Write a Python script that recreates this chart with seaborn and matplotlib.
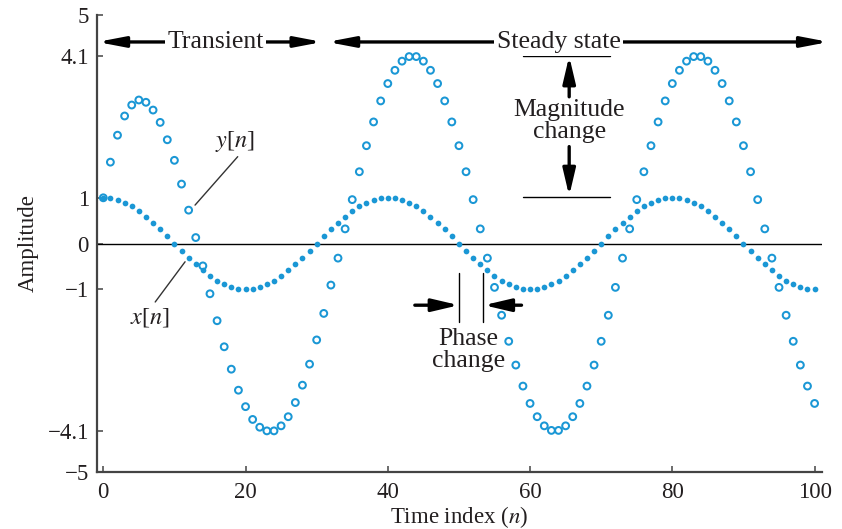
import matplotlib
matplotlib.use("Agg")
import matplotlib.pyplot as plt
import seaborn as sns
import pandas as pd

# ---------------- data ----------------
n_index = list(range(101))

x_vals = [1.00, 0.99, 0.95, 0.89, 0.81, 0.71, 0.59, 0.45, 0.31, 0.16,
          0.00, -0.16, -0.31, -0.45, -0.59, -0.71, -0.81, -0.89, -0.95, -0.99,
          -1.00, -0.99, -0.95, -0.89, -0.81, -0.71, -0.59, -0.45, -0.31, -0.16,
          0.00, 0.16, 0.31, 0.45, 0.59, 0.71, 0.81, 0.89, 0.95, 0.99,
          1.00, 0.99, 0.95, 0.89, 0.81, 0.71, 0.59, 0.45, 0.31, 0.16,
          0.00, -0.16, -0.31, -0.45, -0.59, -0.71, -0.81, -0.89, -0.95, -0.99,
          -1.00, -0.99, -0.95, -0.89, -0.81, -0.71, -0.59, -0.45, -0.31, -0.16,
          0.00, 0.16, 0.31, 0.45, 0.59, 0.71, 0.81, 0.89, 0.95, 0.99,
          1.00, 0.99, 0.95, 0.89, 0.81, 0.71, 0.59, 0.45, 0.31, 0.16,
          0.00, -0.16, -0.31, -0.45, -0.59, -0.71, -0.81, -0.89, -0.95, -0.99,
          -1.00]

y_vals = [1.00, 1.78, 2.37, 2.79, 3.03, 3.14, 3.09, 2.92, 2.65, 2.27,
          1.82, 1.30, 0.73, 0.13, -0.49, -1.10, -1.69, -2.26, -2.75, -3.21,
          -3.57, -3.85, -4.02, -4.10, -4.10, -3.99, -3.79, -3.48, -3.10, -2.64,
          -2.11, -1.53, -0.91, -0.32, 0.32, 0.96, 1.57, 2.14, 2.66, 3.12,
          3.50, 3.79, 3.99, 4.09, 4.09, 3.99, 3.79, 3.50, 3.12, 2.66,
          2.14, 1.57, 0.96, 0.32, -0.32, -0.96, -1.57, -2.14, -2.66, -3.12,
          -3.50, -3.79, -3.99, -4.09, -4.09, -3.99, -3.79, -3.50, -3.12, -2.66,
          -2.14, -1.57, -0.96, -0.32, 0.32, 0.96, 1.57, 2.14, 2.66, 3.12,
          3.50, 3.79, 3.99, 4.09, 4.09, 3.99, 3.79, 3.50, 3.12, 2.66,
          2.14, 1.57, 0.96, 0.32, -0.32, -0.96, -1.57, -2.14, -2.66, -3.12,
          -3.50]

x_ticks = [0, 20, 40, 60, 80, 100]
x_tick_labels = ["0", "20", "40", "60", "80", "100"]
y_ticks = [-5, -4.1, -1, 0, 1, 4.1, 5]
y_tick_labels = ["\u22125", "\u22124.1", "\u22121", "0", "1", "4.1", "5"]

df = pd.DataFrame({"n": n_index, "x": x_vals, "y": y_vals})

# ---------------- style ----------------
sns.set_style("ticks")
plt.rcParams["font.family"] = ["Liberation Serif", "DejaVu Serif"]
plt.rcParams["mathtext.fontset"] = "stix"
TXT = "#231f20"
BLUE = "#1a97d5"
FS = 16.5      # tick / axis labels
FA = 18.5      # annotation text

fig = plt.figure(figsize=(8.42, 5.29), dpi=100)
ax = fig.add_axes([97.3 / 842, 1 - 472 / 529, (821.7 - 97.3) / 842, (472 - 15) / 529])

ax.axhline(0, color="black", lw=1.0, zorder=1)

sns.scatterplot(data=df, x="n", y="x", ax=ax, color=BLUE, s=17, linewidth=0,
                zorder=3, legend=False)
sns.scatterplot(data=df, x="n", y="y", ax=ax, marker="o", s=24,
                facecolors="none", edgecolor=BLUE, linewidth=1.45,
                zorder=4, legend=False)

ax.set_xlim(-0.84, 101.0)
ax.set_ylim(-5, 5)
ax.set_xticks(x_ticks)
ax.set_xticklabels(x_tick_labels)
ax.set_yticks(y_ticks)
ax.set_yticklabels(y_tick_labels)
ax.tick_params(direction="in", length=4, width=1.1, color="#444444",
               labelsize=FS, labelcolor=TXT)
ax.tick_params(axis="y", pad=6)
ax.tick_params(axis="x", pad=7)
for s in ["top", "right"]:
    ax.spines[s].set_visible(False)
for s in ["left", "bottom"]:
    ax.spines[s].set_linewidth(1.6)
    ax.spines[s].set_color("#444444")

ax.set_xlabel("Time index ($n$)", fontsize=FS, color=TXT, labelpad=1)
ax.set_ylabel("Amplitude", fontsize=FS, color=TXT, labelpad=6)

# ---------------- annotations ----------------
big_arrow = dict(arrowstyle="<|-|>,head_length=1.15,head_width=0.22",
                 color="black", lw=2.4, mutation_scale=14, shrinkA=0, shrinkB=0)
ax.annotate("", xy=(-0.84, 4.41), xytext=(30.8, 4.41), arrowprops=big_arrow,
            annotation_clip=False)
ax.annotate("", xy=(31.5, 4.41), xytext=(102.0, 4.41), arrowprops=big_arrow,
            annotation_clip=False)
ax.text(15.8, 4.41, "Transient", ha="center", va="center", fontsize=FA,
        color=TXT, zorder=5,
        bbox=dict(boxstyle="square,pad=0.1", fc="white", ec="none"))
ax.text(64.0, 4.41, "Steady state", ha="center", va="center", fontsize=FA,
        color=TXT, zorder=5,
        bbox=dict(boxstyle="square,pad=0.1", fc="white", ec="none"))

# magnitude change
ax.plot([59.0, 71.3], [4.1, 4.1], color="black", lw=1.0)
ax.plot([59.0, 71.3], [1.02, 1.02], color="black", lw=1.0)
one_arrow = dict(arrowstyle="-|>,head_length=1.15,head_width=0.27",
                 color="black", lw=2.4, mutation_scale=14, shrinkA=0, shrinkB=0)
ax.annotate("", xy=(65.5, 4.1), xytext=(65.5, 3.21), arrowprops=one_arrow)
ax.annotate("", xy=(65.5, 1.04), xytext=(65.5, 2.12), arrowprops=one_arrow)
ax.text(65.5, 2.67, "Magnitude\nchange", ha="center", va="center",
        fontsize=FA, color=TXT, linespacing=1.0)

# phase change
ax.plot([50.07, 50.07], [-0.65, -1.71], color="black", lw=1.0)
ax.plot([53.4, 53.4], [-0.65, -1.71], color="black", lw=1.0)
ax.annotate("", xy=(50.0, -1.35), xytext=(43.8, -1.35), arrowprops=one_arrow)
ax.annotate("", xy=(53.5, -1.35), xytext=(58.8, -1.35), arrowprops=one_arrow)
ax.text(51.3, -2.33, "Phase\nchange", ha="center", va="center",
        fontsize=FA, color=TXT, linespacing=1.0)

# series labels with leader lines
ax.plot([18.9, 12.9], [1.90, 0.84], color="#333333", lw=1.0)
ax.text(18.5, 2.24, "$y$[$n$]", ha="center", va="center", fontsize=17.5, color=TXT)
ax.plot([7.3, 11.5], [-1.28, -0.40], color="#333333", lw=1.0)
ax.text(6.6, -1.62, "$x$[$n$]", ha="center", va="center", fontsize=17.5, color=TXT)

fig.savefig("out.png", dpi=100)
